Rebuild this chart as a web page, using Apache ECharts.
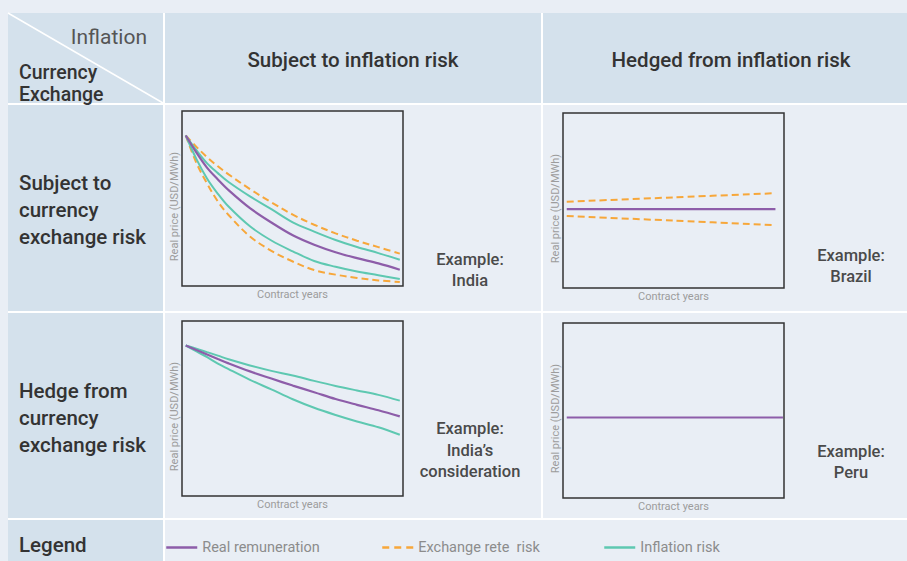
<!DOCTYPE html>
<html>
<head>
<meta charset="utf-8">
<title>Inflation and currency exchange risk</title>
<script src="https://cdn.jsdelivr.net/npm/echarts@6/dist/echarts.min.js"></script>
<style>
  html, body { margin: 0; padding: 0; background: #e9eef5; }
  #chart { width: 907px; height: 561px; }
</style>
</head>
<body>
<div id="chart"></div>
<script>
// contract years sampled for the curves
const years = [0, 1, 2, 3, 4, 6, 8, 10, 12, 14, 16, 18, 20]

// Example: India (subject to both risks)
const indiaReal = [86, 76.2, 67.5, 60.9, 54.8, 44.5, 36.3, 29.0, 23.6, 19.3, 15.9, 12.9, 9.3]
const indiaInflHigh = [86, 77.6, 70.1, 64.5, 59.4, 51.2, 43.9, 36.4, 31.1, 26.3, 22.3, 18.8, 15.0]
const indiaInflLow = [86, 72.5, 61.3, 52.7, 45.4, 34.1, 26.0, 19.8, 14.3, 11.0, 8.3, 6.2, 4.0]
const indiaFxHigh = [86, 79.5, 73.6, 68.4, 63.8, 55.4, 47.8, 40.8, 35.0, 30.1, 25.9, 22.2, 18.5]
const indiaFxLow = [86, 70.3, 58.5, 48.3, 40.6, 28.3, 20.1, 14.0, 9.1, 6.5, 4.6, 3.2, 2.3]

// Example: India's consideration (hedged from currency risk)
const considReal = [86, 83.4, 80.9, 78.3, 75.8, 71.2, 67.1, 63.1, 59.3, 55.4, 52.1, 49.0, 45.5]
const considInflHigh = [86, 84.2, 82.2, 80.2, 78.1, 74.6, 71.5, 68.9, 65.8, 62.9, 60.3, 57.8, 54.5]
const considInflLow = [86, 82.7, 79.3, 75.7, 72.5, 66.4, 60.9, 55.3, 50.4, 46.3, 42.6, 39.3, 35.0]

// Example: Brazil (hedged from inflation)
const brazilYears = [0, 10, 19.5]
const brazilReal = [45.1, 45.1, 45.1]
const brazilFxYears = [0, 10, 19.2]
const brazilFxHigh = [49.3, 51.8, 54.1]
const brazilFxLow = [41.1, 38.5, 36.0]

// Example: Peru (hedged from both)
const peruYears = [0, 10, 20.2]
const peruReal = [46, 46, 46]

const headers = ['Subject to inflation risk', 'Hedged from inflation risk']
const rowLabels = ['Subject to\ncurrency\nexchange risk', 'Hedge from\ncurrency\nexchange risk']
const examples = ['Example:\nIndia', 'Example:\nIndia\u2019s\nconsideration', 'Example:\nBrazil', 'Example:\nPeru']
const legendNames = ['Real remuneration', 'Exchange rete  risk', 'Inflation risk']

const PURPLE = '#8d5da9'
const ORANGE = '#f7a73a'
const TEAL = '#5ec8b1'
const FONT = 'Roboto, "Open Sans", sans-serif'
const DASH = [7, 4]

const zip = (xs, ys) => xs.map((x, i) => [x, ys[i]])

const chart = echarts.init(document.getElementById('chart'), null, { renderer: 'svg' })

const gridPos = [
  [182, 111],
  [182, 321],
  [563, 113],
  [563, 323]
]

const grids = gridPos.map(p => ({
  left: p[0],
  top: p[1],
  width: 221,
  height: 175,
  show: true,
  z: 5,
  borderColor: '#333',
  borderWidth: 1.5,
  backgroundColor: 'transparent'
}))

const nameStyle = { color: '#9c9c9c', fontSize: 11, fontFamily: FONT }

const xAxes = gridPos.map((p, i) => ({
  type: 'value',
  gridIndex: i,
  min: -0.35,
  max: 20.3,
  axisLine: { show: false },
  axisTick: { show: false },
  axisLabel: { show: false },
  splitLine: { show: false },
  name: 'Contract years',
  nameLocation: 'middle',
  nameGap: 3,
  nameTextStyle: nameStyle
}))

const yAxes = gridPos.map((p, i) => ({
  type: 'value',
  gridIndex: i,
  min: 0,
  max: 100,
  axisLine: { show: false },
  axisTick: { show: false },
  axisLabel: { show: false },
  splitLine: { show: false },
  name: 'Real price (USD/MWh)',
  nameLocation: 'middle',
  nameRotate: 90,
  nameGap: 2,
  nameTextStyle: Object.assign({ padding: [0, 16, 0, 0] }, nameStyle)
}))

function line(name, idx, xs, ys, color, dashed, width) {
  return {
    name: name,
    type: 'line',
    xAxisIndex: idx,
    yAxisIndex: idx,
    data: zip(xs, ys),
    smooth: 0.35,
    symbol: 'none',
    silent: true,
    z: 6,
    lineStyle: { color: color, width: width || 2, type: dashed ? DASH : 'solid' },
    itemStyle: { color: color }
  }
}

const [REAL, FX, INFL] = legendNames

const series = [
  line(FX, 0, years, indiaFxHigh, ORANGE, true),
  line(FX, 0, years, indiaFxLow, ORANGE, true),
  line(INFL, 0, years, indiaInflHigh, TEAL),
  line(INFL, 0, years, indiaInflLow, TEAL),
  line(REAL, 0, years, indiaReal, PURPLE, false, 2.2),

  line(INFL, 1, years, considInflHigh, TEAL),
  line(INFL, 1, years, considInflLow, TEAL),
  line(REAL, 1, years, considReal, PURPLE, false, 2.2),

  line(FX, 2, brazilFxYears, brazilFxHigh, ORANGE, true),
  line(FX, 2, brazilFxYears, brazilFxLow, ORANGE, true),
  line(REAL, 2, brazilYears, brazilReal, PURPLE, false, 2.2),

  line(REAL, 3, peruYears, peruReal, PURPLE, false, 2.2)
]

const legendLeft = [165, 381, 603]
const legends = legendNames.map((n, i) => ({
  data: [n],
  left: legendLeft[i],
  top: 540,
  padding: 0,
  itemWidth: 31,
  itemHeight: 14,
  itemGap: 0,
  selectedMode: false,
  itemStyle: { opacity: 0 },
  lineStyle: { width: 2.5, type: n === FX ? [7, 5] : 'solid' },
  textStyle: { color: '#8c8c8c', fontSize: 14.5, fontFamily: FONT }
}))

// table cells behind the charts
const HEAD = '#d4e1ec'
const BODY = '#e9eef5'
function cell(x, y, w, h, fill) {
  return { type: 'rect', silent: true, z: -10, shape: { x: x, y: y, width: w, height: h }, style: { fill: fill } }
}
function label(text, x, y, opts) {
  return {
    type: 'text',
    silent: true,
    style: Object.assign({
      text: text,
      x: x,
      y: y,
      fill: '#333',
      fontSize: 20.5,
      fontWeight: 500,
      fontFamily: FONT,
      align: 'left',
      verticalAlign: 'middle'
    }, opts || {})
  }
}

const exampleStyle = { align: 'center', fontSize: 16.5, lineHeight: 21.5, fill: '#4a4a4a' }

const graphics = [
  cell(8, 13, 899, 548, '#ffffff'),
  cell(8, 13, 155, 90, HEAD),
  cell(165, 13, 376, 90, HEAD),
  cell(543, 13, 364, 90, HEAD),
  cell(8, 105, 155, 206, HEAD),
  cell(165, 105, 376, 206, BODY),
  cell(543, 105, 364, 206, BODY),
  cell(8, 313, 155, 205, HEAD),
  cell(165, 313, 376, 205, BODY),
  cell(543, 313, 364, 205, BODY),
  cell(8, 520, 155, 41, HEAD),
  cell(165, 520, 742, 41, BODY),
  {
    type: 'line',
    silent: true,
    z: -9,
    shape: { x1: 8, y1: 13, x2: 163, y2: 103 },
    style: { stroke: '#ffffff', lineWidth: 1.5 }
  },
  label('Inflation', 147, 37, { align: 'right', fill: '#555', fontWeight: 400, fontSize: 21 }),
  label('Currency', 19, 72, { fontSize: 19.5 }),
  label('Exchange', 19, 94, { fontSize: 19.5 }),
  label(headers[0], 353, 60, { align: 'center' }),
  label(headers[1], 731, 60, { align: 'center' }),
  label(rowLabels[0], 19, 210, { lineHeight: 27 }),
  label(rowLabels[1], 19, 418, { lineHeight: 27 }),
  label('Legend', 19, 545),
  label(examples[0], 470, 270, exampleStyle),
  label(examples[1], 470, 450, exampleStyle),
  label(examples[2], 851, 266, exampleStyle),
  label(examples[3], 851, 462, exampleStyle)
]

chart.setOption({
  backgroundColor: '#e9eef5',
  animation: false,
  graphic: { elements: graphics },
  legend: legends,
  grid: grids,
  xAxis: xAxes,
  yAxis: yAxes,
  series: series
})
</script>
</body>
</html>
